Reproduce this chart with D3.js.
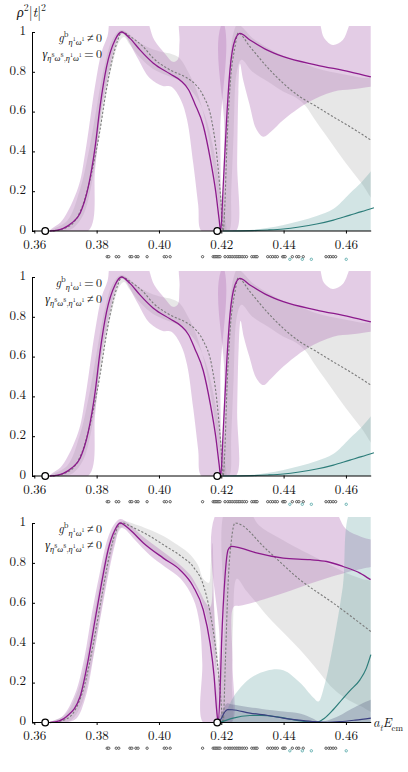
<!DOCTYPE html>
<html>
<head>
<meta charset="utf-8">
<script src="https://cdn.jsdelivr.net/npm/d3@7"></script>
<style>
body { margin: 0; background: #fff; }
svg text, svg tspan { font-family: "Latin Modern Roman", "Liberation Serif", serif; fill: #111; }
.tick text { font-size: 13px; }
</style>
</head>
<body>
<svg width="408" height="772"></svg>
<script>
var serif = "'Latin Modern Roman', 'Liberation Serif', serif";

// ticks
var xTicks = [0.36, 0.38, 0.40, 0.42, 0.44, 0.46];
var yTicks = [0, 0.2, 0.4, 0.6, 0.8, 1];
var yTickLabels = ["0", "0.2", "0.4", "0.6", "0.8", "1"];

// thresholds (open circles on the axis)
var thresholds = [0.3635, 0.4187];

// energy levels shown under each panel
var levelsBlack = [0.3834, 0.3839, 0.3863, 0.3871, 0.3907, 0.3913, 0.3926, 0.3933, 0.3962, 0.4017, 0.4024, 0.4036,
    0.4140, 0.4174, 0.4179, 0.4183, 0.4187, 0.4192, 0.4196, 0.4212, 0.4221, 0.4228, 0.4235, 0.4242, 0.4248,
    0.4254, 0.4260, 0.4267, 0.4274, 0.4281, 0.4298, 0.4305, 0.4311, 0.4315, 0.4349, 0.4358, 0.4365, 0.4373,
    0.4380, 0.4397, 0.4401, 0.4405, 0.4428, 0.4442, 0.4449, 0.4463, 0.4536, 0.4545, 0.4551, 0.4559, 0.4567];
var levelsTeal = [0.4420, 0.4460, 0.4489, 0.4601];

// ---- panel 1 / 2 curves ----
var purpleLine1 = [[0.3650,0],[0.3675,0.004],[0.3693,0.013],[0.3720,0.04],[0.3747,0.089],[0.3773,0.22],[0.3795,0.42],
    [0.3811,0.625],[0.3832,0.826],[0.3859,0.96],[0.3880,1.0],[0.3907,0.968],[0.3939,0.91],[0.3982,0.843],[0.4035,0.79],
    [0.4070,0.755],[0.4095,0.71],[0.4115,0.64],[0.4142,0.53],[0.4165,0.36],[0.4182,0.2],[0.4193,0.06],[0.4198,0],
    [0.4206,0.22],[0.4217,0.558],[0.4228,0.81],[0.4244,0.96],[0.4260,0.993],[0.4292,0.96],[0.4346,0.91],[0.4399,0.876],
    [0.4506,0.834],[0.4613,0.80],[0.4680,0.775]];
var grayLine1 = [[0.3660,0],[0.3700,0.015],[0.3730,0.05],[0.3760,0.15],[0.3785,0.30],[0.3810,0.50],[0.3830,0.70],
    [0.3850,0.86],[0.3868,0.96],[0.3880,1.0],[0.3910,0.975],[0.3950,0.925],[0.3982,0.868],[0.4035,0.81],[0.4089,0.77],
    [0.4115,0.74],[0.4142,0.68],[0.4169,0.558],[0.4185,0.39],[0.4198,0.17],[0.4206,0],[0.4212,0.15],[0.4217,0.39],
    [0.4228,0.725],[0.4244,0.926],[0.4254,0.995],[0.4292,0.926],[0.4346,0.826],[0.4399,0.742],[0.4452,0.675],
    [0.4506,0.625],[0.4559,0.574],[0.4613,0.524],[0.4680,0.457]];
var tealLine1 = [[0.4205,0],[0.4300,0.002],[0.4350,0.005],[0.4399,0.01],[0.4450,0.02],[0.4506,0.035],[0.4560,0.055],
    [0.4613,0.08],[0.4650,0.097],[0.4690,0.117]];

var purpleBandA1 = [[0.3650,0],[0.3688,0.05],[0.3741,0.22],[0.3763,0.39],[0.3795,0.73],[0.3816,0.90],[0.3835,0.98],
    [0.3850,1.08],[0.3950,1.08],[0.3985,0.96],[0.4020,0.89],[0.4045,0.85],[0.4060,0.86],[0.4066,0.95],[0.4072,1.08],
    [0.4196,1.08],[0.4197,0.5],[0.4199,0.15],[0.4200,0],[0.4137,0],[0.4126,0.13],[0.4110,0.34],[0.4090,0.56],
    [0.4070,0.66],[0.4040,0.725],[0.4012,0.729],[0.3971,0.767],[0.3929,0.876],[0.3886,0.99],[0.3875,0.985],
    [0.3859,0.926],[0.3834,0.759],[0.3811,0.558],[0.3795,0.307],[0.3773,0]];
var purpleBandB1 = [[0.4203,0],[0.4205,0.12],[0.4210,0.5],[0.4217,1.08],[0.4501,1.08],[0.4530,0.97],[0.4558,0.935],
    [0.4590,0.96],[0.4629,1.08],[0.4700,1.08],[0.4700,0.73],[0.4679,0.725],[0.4620,0.712],[0.4559,0.70],[0.4474,0.642],
    [0.4399,0.558],[0.4360,0.50],[0.4335,0.474],[0.4313,0.51],[0.4290,0.64],[0.4270,0.76],[0.4260,0.84],[0.4255,0.7],
    [0.4251,0.35],[0.4247,0]];
var purpleBandB2 = [[0.4203,0],[0.4205,0.12],[0.4210,0.5],[0.4217,1.08],[0.4501,1.08],[0.4530,0.97],[0.4558,0.94],
    [0.4590,0.965],[0.4629,1.08],[0.4700,1.08],[0.4700,0.73],[0.4679,0.725],[0.4620,0.712],[0.4559,0.70],[0.4474,0.64],
    [0.4399,0.55],[0.4360,0.49],[0.4335,0.457],[0.4313,0.49],[0.4290,0.60],[0.4272,0.70],[0.4262,0.78],[0.4256,0.65],
    [0.4251,0.33],[0.4247,0]];
var grayBandA1 = [[0.3650,0],[0.3705,0.05],[0.3745,0.2],[0.3775,0.4],[0.3800,0.62],[0.3825,0.83],[0.3850,0.96],
    [0.3878,1.01],[0.3900,0.995],[0.3930,0.955],[0.3970,0.92],[0.4010,0.90],[0.4040,0.89],[0.4065,0.87],[0.4090,0.81],
    [0.4115,0.73],[0.4138,0.62],[0.4158,0.48],[0.4175,0.32],[0.4190,0.15],[0.4202,0.03],[0.4210,0],[0.4216,0],
    [0.4212,0.07],[0.4200,0.18],[0.4188,0.3],[0.4170,0.45],[0.4150,0.57],[0.4125,0.66],[0.4095,0.72],[0.4060,0.76],
    [0.4020,0.785],[0.3980,0.815],[0.3940,0.87],[0.3905,0.94],[0.3888,0.975],[0.3872,0.95],[0.3852,0.85],[0.3830,0.68],
    [0.3806,0.45],[0.3782,0.22],[0.3757,0.08],[0.3725,0.015],[0.3695,0]];
var grayBandB1 = [[0.4208,0],[0.4213,0.3],[0.4220,0.65],[0.4230,0.9],[0.4240,1.0],[0.4252,1.04],[0.4270,1.02],
    [0.4300,0.97],[0.4350,0.92],[0.4400,0.88],[0.4450,0.85],[0.4500,0.82],[0.4550,0.80],[0.4600,0.785],[0.4650,0.77],
    [0.4700,0.76],[0.4700,0.14],[0.4650,0.24],[0.4600,0.34],[0.4550,0.45],[0.4500,0.56],[0.4470,0.63],[0.4440,0.67],
    [0.4400,0.70],[0.4350,0.75],[0.4300,0.80],[0.4265,0.86],[0.4250,0.8],[0.4240,0.5],[0.4232,0.2],[0.4225,0]];
var tealBand1 = [[0.4237,0],[0.4300,0.006],[0.4346,0.015],[0.4400,0.03],[0.4452,0.05],[0.4506,0.075],[0.4559,0.11],
    [0.4613,0.19],[0.4650,0.245],[0.4690,0.315],[0.4720,0.35],[0.4720,0]];

// ---- panel 3 curves ----
var purpleLine3 = [[0.3650,0],[0.3680,0.008],[0.3704,0.03],[0.3747,0.13],[0.3773,0.314],[0.3795,0.515],[0.3816,0.70],
    [0.3837,0.866],[0.3859,0.966],[0.3875,1.0],[0.3907,0.966],[0.3950,0.90],[0.4014,0.824],[0.4067,0.766],[0.4110,0.682],
    [0.4142,0.565],[0.4164,0.398],[0.4177,0.231],[0.4185,0.064],[0.4190,0],[0.4196,0.15],[0.4201,0.398],[0.4212,0.732],
    [0.4222,0.866],[0.4233,0.883],[0.4260,0.875],[0.4313,0.85],[0.4399,0.824],[0.4485,0.816],[0.4538,0.807],
    [0.4591,0.782],[0.4645,0.749],[0.4679,0.716]];
var grayLine3 = [[0.3655,0],[0.3700,0.015],[0.3730,0.06],[0.3760,0.18],[0.3790,0.40],[0.3815,0.62],[0.3840,0.83],
    [0.3860,0.95],[0.3880,1.0],[0.3920,0.975],[0.3970,0.935],[0.4020,0.885],[0.4070,0.835],[0.4110,0.78],[0.4140,0.70],
    [0.4163,0.56],[0.4183,0.36],[0.4197,0.15],[0.4206,0],[0.4213,0.3],[0.4222,0.7],[0.4233,0.92],[0.4244,1.0],
    [0.4346,0.866],[0.4452,0.716],[0.4559,0.599],[0.4680,0.456]];
var tealLine3 = [[0.4192,0],[0.4210,0.008],[0.4238,0.022],[0.4292,0.035],[0.4330,0.036],[0.4380,0.028],[0.4430,0.014],
    [0.4480,0.003],[0.4505,0],[0.4530,0.02],[0.4559,0.064],[0.4590,0.12],[0.4613,0.16],[0.4645,0.214],[0.4665,0.27],
    [0.4680,0.34]];
var navyLine3 = [[0.4190,0],[0.4200,0.02],[0.4210,0.05],[0.4220,0.065],[0.4235,0.064],[0.4292,0.047],[0.4350,0.035],
    [0.4399,0.022],[0.4450,0.012],[0.4500,0.004],[0.4540,0.001],[0.4580,0.004],[0.4630,0.012],[0.4680,0.022]];

var purpleBandA3 = [[0.3650,0],[0.3690,0.03],[0.3730,0.14],[0.3760,0.32],[0.3785,0.55],[0.3810,0.75],[0.3835,0.92],
    [0.3855,0.99],[0.3875,1.02],[0.3900,1.0],[0.3950,0.93],[0.4010,0.86],[0.4060,0.80],[0.4100,0.74],[0.4130,0.66],
    [0.4150,0.6],[0.4165,0.58],[0.4172,0.9],[0.4177,0.58],[0.4184,0.3],[0.4190,0.05],[0.4193,0],[0.4142,0],
    [0.4139,0.3],[0.4130,0.5],[0.4110,0.62],[0.4070,0.72],[0.4020,0.78],[0.3970,0.84],[0.3920,0.92],[0.3890,0.97],
    [0.3875,0.975],[0.3860,0.9],[0.3840,0.76],[0.3815,0.55],[0.3790,0.33],[0.3765,0.13],[0.3735,0.02],[0.3700,0]];
var purpleBandB3 = [[0.4194,0],[0.4195,0.4],[0.4198,1.08],[0.4550,1.08],[0.4600,0.97],[0.4650,0.93],[0.4700,0.90],
    [0.4700,0.785],[0.4680,0.78],[0.4613,0.757],[0.4506,0.707],[0.4400,0.649],[0.4300,0.60],[0.4260,0.585],
    [0.4240,0.58],[0.4236,0.3],[0.4234,0]];
var grayBandA3 = [[0.3650,0],[0.3700,0.04],[0.3740,0.16],[0.3770,0.35],[0.3795,0.57],[0.3820,0.78],[0.3845,0.93],
    [0.3870,1.0],[0.3885,1.01],[0.3930,0.99],[0.3980,0.96],[0.4014,0.935],[0.4050,0.90],[0.4095,0.85],[0.4125,0.79],
    [0.4142,0.72],[0.4160,0.70],[0.4166,0.78],[0.4171,0.90],[0.4175,0.62],[0.4185,0.40],[0.4196,0.15],[0.4205,0],
    [0.4212,0],[0.4196,0.1],[0.4180,0.3],[0.4160,0.48],[0.4140,0.6],[0.4110,0.7],[0.4070,0.77],[0.4020,0.82],
    [0.3970,0.875],[0.3920,0.94],[0.3890,0.985],[0.3872,0.96],[0.3852,0.87],[0.3827,0.67],[0.3802,0.45],[0.3777,0.24],
    [0.3752,0.09],[0.3717,0.01],[0.3690,0]];
var grayBandB3 = [[0.4205,0],[0.4210,0.5],[0.4218,1.08],[0.4280,1.08],[0.4320,0.99],[0.4380,0.93],[0.4450,0.87],
    [0.4500,0.83],[0.4550,0.79],[0.4600,0.75],[0.4650,0.72],[0.4700,0.69],[0.4700,0.05],[0.4650,0.08],[0.4600,0.12],
    [0.4559,0.17],[0.4500,0.28],[0.4450,0.37],[0.4400,0.45],[0.4350,0.53],[0.4313,0.60],[0.4280,0.66],[0.4250,0.72],
    [0.4238,0.5],[0.4234,0.2],[0.4232,0]];
var tealBand3 = [[0.4195,0],[0.4215,0.05],[0.4240,0.13],[0.4292,0.22],[0.4346,0.26],[0.4399,0.262],[0.4452,0.2],
    [0.4495,0.125],[0.4512,0.105],[0.4530,0.18],[0.4560,0.40],[0.4590,0.68],[0.4623,1.08],[0.4720,1.08],[0.4720,0]];
var navyBand3 = [[0.4190,0],[0.4205,0.06],[0.4218,0.095],[0.4235,0.09],[0.4270,0.082],[0.4330,0.068],[0.4400,0.055],
    [0.4452,0.045],[0.4494,0.02],[0.4516,0.003],[0.4540,0.01],[0.4580,0.035],[0.4613,0.064],[0.4680,0.114],
    [0.4720,0.13],[0.4720,0]];

// text of the two annotation lines per panel: [text, level, italic]
var annoG = function(rel) {
    return [["g","n",1],["b","s",0],["η","b",1],["1","bs",0],["ω","b",1],["1","bs",0],["\u2009" + rel + "\u20090","n",0]];
};
var annoGamma = function(rel) {
    return [["γ","n",1],["η","b",1],["8","bs",0],["ω","b",1],["8","bs",0],[",","b",0],["η","b",1],["1","bs",0],
        ["ω","b",1],["1","bs",0],["\u2009" + rel + "\u20090","n",0]];
};

var panels = [
    { top: 32, bottom: 231, relG: "≠", relGamma: "=",
      grayBands: [grayBandA1, grayBandB1], purpleBands: [purpleBandA1, purpleBandB1], tealBands: [tealBand1], navyBands: [],
      grayLine: grayLine1, purpleLine: purpleLine1, tealLine: tealLine1, navyLine: null },
    { top: 277, bottom: 476, relG: "=", relGamma: "≠",
      grayBands: [grayBandA1, grayBandB1], purpleBands: [purpleBandA1, purpleBandB2], tealBands: [tealBand1], navyBands: [],
      grayLine: grayLine1, purpleLine: purpleLine1, tealLine: tealLine1, navyLine: null },
    { top: 523, bottom: 722.5, relG: "≠", relGamma: "≠",
      grayBands: [grayBandA3, grayBandB3], purpleBands: [purpleBandA3, purpleBandB3], tealBands: [tealBand3], navyBands: [navyBand3],
      grayLine: grayLine3, purpleLine: purpleLine3, tealLine: tealLine3, navyLine: navyLine3 }
];

var svg = d3.select("svg");
var x = d3.scaleLinear().domain([0.35942, 0.46795]).range([32.5, 370.7]);

function addMath(g, px, py, anchor, size, parts) {
    var text = g.append("text")
        .attr("x", px)
        .attr("y", py)
        .attr("text-anchor", anchor)
        .style("font-family", serif)
        .style("font-size", size + "px")
        .style("white-space", "pre");
    var shifts = { n: 0, s: -0.4, b: 0.28, bs: -0.05 };
    var scales = { n: 1, s: 0.7, b: 0.7, bs: 0.5 };
    var cur = 0;
    parts.forEach(function(p) {
        var target = shifts[p[1]] * size;
        text.append("tspan")
            .attr("dy", target - cur)
            .style("font-size", scales[p[1]] * size + "px")
            .style("font-style", p[2] ? "italic" : "normal")
            .text(p[0]);
        cur = target;
    });
}

panels.forEach(function(p, i) {
    var y = d3.scaleLinear().domain([0, 1]).range([p.bottom, p.top]);
    var g = svg.append("g");

    g.append("clipPath").attr("id", "clip" + i)
        .append("rect")
        .attr("x", x.range()[0])
        .attr("y", y(1.03))
        .attr("width", x.range()[1] - x.range()[0])
        .attr("height", y(0) - y(1.03));

    var plot = g.append("g").attr("clip-path", "url(#clip" + i + ")");
    var area = d3.line()
        .x(function(d) { return x(d[0]); })
        .y(function(d) { return y(d[1]); })
        .curve(d3.curveCatmullRomClosed.alpha(0.5));
    var line = d3.line()
        .x(function(d) { return x(d[0]); })
        .y(function(d) { return y(d[1]); })
        .curve(d3.curveMonotoneX);

    // bands
    plot.selectAll(".gb").data(p.grayBands).enter().append("path")
        .attr("d", area).attr("fill", "#999").attr("fill-opacity", 0.24);
    plot.selectAll(".pb").data(p.purpleBands).enter().append("path")
        .attr("d", area).attr("fill", "#b880bd").attr("fill-opacity", 0.4);
    plot.selectAll(".tb").data(p.tealBands).enter().append("path")
        .attr("d", area).attr("fill", "#5f9f9f").attr("fill-opacity", 0.28);
    plot.selectAll(".nb").data(p.navyBands).enter().append("path")
        .attr("d", area).attr("fill", "#4a4f78").attr("fill-opacity", 0.28);

    // central curves
    g.append("path").datum(p.grayLine).attr("d", line)
        .attr("fill", "none").attr("stroke", "#7a7a7a").attr("stroke-width", 1.1).attr("stroke-dasharray", "2.2,1.8");
    g.append("path").datum(p.tealLine).attr("d", line)
        .attr("fill", "none").attr("stroke", "#2d7d7a").attr("stroke-width", 1.2);
    if (p.navyLine) {
        g.append("path").datum(p.navyLine).attr("d", line)
            .attr("fill", "none").attr("stroke", "#3a3f80").attr("stroke-width", 1.2);
    }
    g.append("path").datum(p.purpleLine).attr("d", line)
        .attr("fill", "none").attr("stroke", "#8c1a8c").attr("stroke-width", 1.3);

    // axes
    g.append("g")
        .attr("transform", "translate(0," + (p.bottom - 0.5) + ")")
        .call(d3.axisBottom(x).tickValues(xTicks).tickSizeInner(3).tickSizeOuter(0).tickPadding(6)
            .tickFormat(d3.format(".2f")));
    var ya = g.append("g")
        .attr("transform", "translate(32,0)")
        .call(d3.axisLeft(y).tickValues(yTicks).tickSizeInner(-3).tickSizeOuter(0).tickPadding(6)
            .tickFormat(function(d, k) { return yTickLabels[k]; }));
    ya.selectAll("text").attr("dy", "0.18em");
    g.selectAll(".tick text").style("font-family", serif).style("font-size", "13px");

    // thresholds
    g.selectAll(".thr").data(thresholds).enter().append("circle")
        .attr("cx", function(d) { return x(d); })
        .attr("cy", y(0))
        .attr("r", 3.3)
        .attr("fill", "#fff").attr("stroke", "#000").attr("stroke-width", 1.3);

    // energy levels
    g.selectAll(".lvl").data(levelsBlack).enter().append("circle")
        .attr("cx", function(d) { return x(d); })
        .attr("cy", p.bottom + 25.7)
        .attr("r", 1.2)
        .attr("fill", "#fff").attr("stroke", "#222").attr("stroke-width", 0.7);
    g.selectAll(".lvlt").data(levelsTeal).enter().append("circle")
        .attr("cx", function(d) { return x(d); })
        .attr("cy", p.bottom + 28.3)
        .attr("r", 1.2)
        .attr("fill", "#fff").attr("stroke", "#3a9a9a").attr("stroke-width", 0.7);

    // annotations
    addMath(g, 102, p.top + 10, "end", 12, annoG(p.relG));
    addMath(g, 102, p.top + 25.5, "end", 12, annoGamma(p.relGamma));
});

// axis titles
addMath(svg, 17, 17, "start", 14, [["ρ","n",1],["2","s",0],["|","n",0],["t","n",1],["|","n",0],["2","s",0]]);
addMath(svg, 373, 727, "start", 13, [["a","n",1],["t","b",1],["E","n",1],["cm","b",0]]);
</script>
</body>
</html>
